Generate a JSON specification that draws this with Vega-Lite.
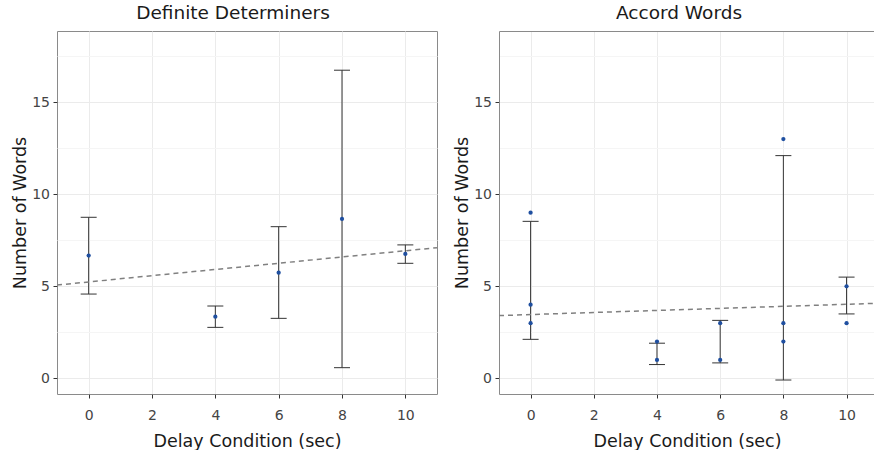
{
  "$schema": "https://vega.github.io/schema/vega-lite/v6.json",
  "padding": {"left": 10, "top": 3, "right": 0, "bottom": 0},
  "background": "white",
  "config": {
    "font": "DejaVu Sans",
    "axis": {
      "labelFont": "DejaVu Sans",
      "titleFont": "DejaVu Sans",
      "labelFontSize": 14,
      "labelColor": "#444444",
      "titleFontSize": 17.5,
      "titleFontWeight": "normal",
      "titleColor": "#1a1a1a",
      "tickColor": "#333333",
      "tickSize": 4,
      "gridColor": "#ebebeb",
      "gridWidth": 1,
      "domain": false
    },
    "title": {"font": "DejaVu Sans", "fontSize": 18.5, "fontWeight": "normal", "color": "#1a1a1a", "baseline": "alphabetic", "offset": 9},
    "view": {"stroke": "#8a8a8a", "strokeWidth": 1}
  },
  "datasets": {
    "dd_err": [
      {"delay": 0, "lo": 4.58, "hi": 8.75},
      {"delay": 4, "lo": 2.77, "hi": 3.93},
      {"delay": 6, "lo": 3.26, "hi": 8.24},
      {"delay": 8, "lo": 0.58, "hi": 16.74},
      {"delay": 10, "lo": 6.25, "hi": 7.25}
    ],
    "dd_pts": [
      {"delay": 0, "words": 6.67},
      {"delay": 4, "words": 3.35},
      {"delay": 6, "words": 5.74},
      {"delay": 8, "words": 8.66},
      {"delay": 10, "words": 6.76}
    ],
    "dd_fit": [
      {"delay": -1, "words": 5.07},
      {"delay": 11, "words": 7.1}
    ],
    "aw_err": [
      {"delay": 0, "lo": 2.12, "hi": 8.53},
      {"delay": 4, "lo": 0.75, "hi": 1.91},
      {"delay": 6, "lo": 0.84, "hi": 3.15},
      {"delay": 8, "lo": -0.09, "hi": 12.1},
      {"delay": 10, "lo": 3.5, "hi": 5.5}
    ],
    "aw_pts": [
      {"delay": 0, "words": 9},
      {"delay": 0, "words": 4},
      {"delay": 0, "words": 3},
      {"delay": 4, "words": 2},
      {"delay": 4, "words": 1},
      {"delay": 6, "words": 3},
      {"delay": 6, "words": 1},
      {"delay": 8, "words": 13},
      {"delay": 8, "words": 3},
      {"delay": 8, "words": 2},
      {"delay": 10, "words": 5},
      {"delay": 10, "words": 3}
    ],
    "aw_fit": [
      {"delay": -1, "words": 3.41},
      {"delay": 11, "words": 4.08}
    ]
  },
  "spacing": 62,
  "bounds": "flush",
  "hconcat": [
    {
      "width": 380,
      "height": 363,
      "title": {"text": "Definite Determiners", "dx": -14},
      "layer": [
        {
          "data": {"name": "dd_err"},
          "mark": {"type": "rule", "color": "#333333", "strokeWidth": 1},
          "encoding": {
            "x": {"field": "delay", "type": "quantitative",
              "scale": {"domain": [-1, 11], "nice": false, "zero": false},
              "axis": {"title": "Delay Condition (sec)", "values": [0, 2, 4, 6, 8, 10], "labelPadding": 10, "titlePadding": 10}},
            "y": {"field": "lo", "type": "quantitative",
              "scale": {"domain": [-0.85, 18.87], "nice": false, "zero": false},
              "axis": {"title": "Number of Words", "values": [0, 2.5, 5, 7.5, 10, 12.5, 15, 17.5],
                "labelExpr": "datum.value % 5 === 0 ? datum.label : ''",
                "tickOpacity": {"condition": {"test": "datum.value % 5 === 0", "value": 1}, "value": 0},
                "gridColor": {"condition": {"test": "datum.value % 5 === 0", "value": "#ebebeb"}, "value": "#f5f5f5"},
                "labelPadding": 3.5, "titlePadding": 2.5}},
            "y2": {"field": "hi"}
          }
        },
        {
          "data": {"name": "dd_err"},
          "mark": {"type": "tick", "orient": "horizontal", "size": 16, "thickness": 1, "color": "#333333", "opacity": 1},
          "encoding": {
            "x": {"field": "delay", "type": "quantitative"},
            "y": {"field": "hi", "type": "quantitative"}
          }
        },
        {
          "data": {"name": "dd_err"},
          "mark": {"type": "tick", "orient": "horizontal", "size": 16, "thickness": 1, "color": "#333333", "opacity": 1},
          "encoding": {
            "x": {"field": "delay", "type": "quantitative"},
            "y": {"field": "lo", "type": "quantitative"}
          }
        },
        {
          "data": {"name": "dd_pts"},
          "mark": {"type": "point", "filled": true, "size": 18, "color": "#1f4fa0", "opacity": 1},
          "encoding": {
            "x": {"field": "delay", "type": "quantitative"},
            "y": {"field": "words", "type": "quantitative"}
          }
        },
        {
          "data": {"name": "dd_fit"},
          "mark": {"type": "line", "color": "#808080", "strokeWidth": 1.5, "strokeDash": [5, 4], "clip": true},
          "encoding": {
            "x": {"field": "delay", "type": "quantitative"},
            "y": {"field": "words", "type": "quantitative"}
          }
        }
      ]
    },
    {
      "width": 376,
      "height": 363,
      "title": {"text": "Accord Words", "dx": -8},
      "view": {"stroke": null},
      "resolve": {"axis": {"x": "independent"}},
      "layer": [
        {
          "data": {"name": "aw_err"},
          "mark": {"type": "rule", "color": "#333333", "strokeWidth": 1},
          "encoding": {
            "x": {"field": "delay", "type": "quantitative",
              "scale": {"domain": [-1, 10.9], "nice": false, "zero": false},
              "axis": {"title": "Delay Condition (sec)", "values": [0, 2, 4, 6, 8, 10], "labelPadding": 10, "titlePadding": 10,
                "domain": true, "domainColor": "#8a8a8a", "domainWidth": 1}},
            "y": {"field": "lo", "type": "quantitative",
              "scale": {"domain": [-0.85, 18.87], "nice": false, "zero": false},
              "axis": {"title": "Number of Words", "values": [0, 2.5, 5, 7.5, 10, 12.5, 15, 17.5],
                "labelExpr": "datum.value % 5 === 0 ? datum.label : ''",
                "tickOpacity": {"condition": {"test": "datum.value % 5 === 0", "value": 1}, "value": 0},
                "gridColor": {"condition": {"test": "datum.value % 5 === 0", "value": "#ebebeb"}, "value": "#f5f5f5"},
                "labelPadding": 3.5, "titlePadding": 2.5,
                "domain": true, "domainColor": "#8a8a8a", "domainWidth": 1}},
            "y2": {"field": "hi"}
          }
        },
        {
          "data": {"name": "aw_err"},
          "mark": {"type": "tick", "orient": "horizontal", "size": 16, "thickness": 1, "color": "#333333", "opacity": 1},
          "encoding": {
            "x": {"field": "delay", "type": "quantitative", "axis": null},
            "y": {"field": "hi", "type": "quantitative"}
          }
        },
        {
          "data": {"name": "aw_err"},
          "mark": {"type": "tick", "orient": "horizontal", "size": 16, "thickness": 1, "color": "#333333", "opacity": 1},
          "encoding": {
            "x": {"field": "delay", "type": "quantitative", "axis": null},
            "y": {"field": "lo", "type": "quantitative"}
          }
        },
        {
          "data": {"name": "aw_pts"},
          "mark": {"type": "point", "filled": true, "size": 18, "color": "#1f4fa0", "opacity": 1},
          "encoding": {
            "x": {"field": "delay", "type": "quantitative", "axis": null},
            "y": {"field": "words", "type": "quantitative"}
          }
        },
        {
          "data": {"name": "aw_fit"},
          "mark": {"type": "line", "color": "#808080", "strokeWidth": 1.5, "strokeDash": [5, 4], "clip": true},
          "encoding": {
            "x": {"field": "delay", "type": "quantitative",
              "axis": {"orient": "top", "labels": false, "ticks": false, "grid": false, "title": null,
                "domain": true, "domainColor": "#8a8a8a", "domainWidth": 1}},
            "y": {"field": "words", "type": "quantitative"}
          }
        }
      ]
    }
  ]
}
